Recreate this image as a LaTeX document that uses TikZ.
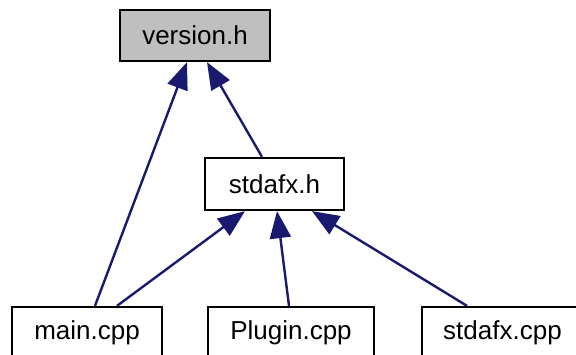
\documentclass[tikz,border=0pt]{standalone}
\usepackage{fontspec}
\setmainfont{Liberation Sans}
\usetikzlibrary{arrows.meta}
\definecolor{edgeblue}{RGB}{25,25,112}
\definecolor{boxgray}{RGB}{191,191,191}
\tikzset{
  filebox/.style={draw=black, line width=2.3pt, fill=white, inner sep=0pt,
    minimum height=51pt, font=\fontsize{26}{30}\selectfont},
  bottombox/.style={filebox, minimum height=60pt, text height=12pt, text depth=7.5pt},
  edge/.style={draw=edgeblue, line width=2.4pt,
    -{Triangle[length=27pt,width=21pt]}}
}
\begin{document}
\begin{tikzpicture}[x=1pt,y=-1pt]
\clip (0,0) rectangle (576,354);
\useasboundingbox (0,0) rectangle (576,354);
\node[filebox, fill=boxgray, minimum width=150pt] (version) at (195,35.5) {version.h};
\node[filebox, minimum width=139pt, minimum height=52pt] (stdafxh) at (274.5,184) {stdafx.h};
\node[bottombox, minimum width=150pt] (main) at (87,337) {main.cpp};
\node[bottombox, minimum width=166pt] (plugin) at (291,337) {Plugin.cpp};
\node[bottombox, minimum width=161pt] (stdafxcpp) at (502.5,337) {stdafx.cpp};
\draw[edge] ([xshift=8pt]main.north) -- ([xshift=-8pt]version.south);
\draw[edge] ([xshift=-12.5pt]stdafxh.north) -- ([xshift=12pt]version.south);
\draw[edge] ([xshift=30pt]main.north) -- ([xshift=-29.5pt]stdafxh.south);
\draw[edge] ([xshift=-2pt]plugin.north) -- ([xshift=2.5pt]stdafxh.south);
\draw[edge] ([xshift=-35.5pt]stdafxcpp.north) -- ([xshift=37.5pt]stdafxh.south);
\end{tikzpicture}
\end{document}
